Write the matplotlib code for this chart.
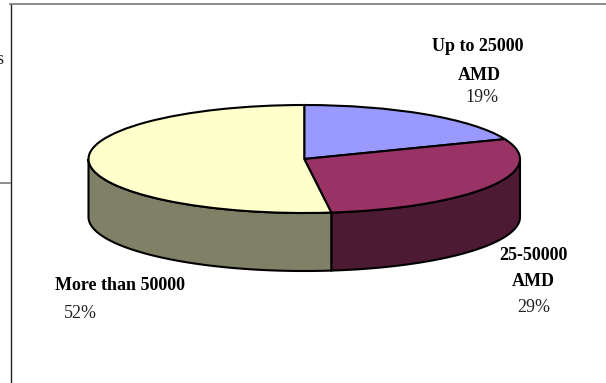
import numpy as np
import matplotlib
matplotlib.use('Agg')
import matplotlib.pyplot as plt

plt.rcParams['font.family'] = ['Liberation Serif', 'DejaVu Serif']

W, H = 606, 383

# income groups, clockwise from the top
shares = [19, 29, 52]
names = ['Up to 25000\nAMD', '25-50000\nAMD', 'More than 50000']
pct_labels = ['19%', '29%', '52%']
top_colors = ['#9999FF', '#993366', '#FFFFCC']
side_colors = ['#4D4D80', '#4D1A33', '#808066']


def fx(px):
    return px / W


def fy(py):
    return 1 - py / H


fig = plt.figure(figsize=(W / 100, H / 100), dpi=100)

# the ellipse of the top face, axes box is its bounding box
left, right, top, bottom = 88.5, 520, 105, 213
ax = fig.add_axes([fx(left), fy(bottom), (right - left) / W, (bottom - top) / H])
depth = 58 / ((bottom - top) / 2)  # in axes units

# side walls first, only the front half can be seen
edges = np.cumsum([0] + shares) / sum(shares) * 360
for i in range(len(shares)):
    a0 = max(edges[i], 90)
    a1 = min(edges[i + 1], 270)
    if a1 <= a0:
        continue
    t = np.radians(np.linspace(a0, a1, 80))
    x = np.sin(t)
    y = np.cos(t)
    ax.fill(np.r_[x, x[::-1]], np.r_[y, y[::-1] - depth], facecolor=side_colors[i],
            edgecolor='black', linewidth=1.5, clip_on=False, zorder=1)

wedges, _ = ax.pie(shares, colors=top_colors, startangle=90, counterclock=False,
                   wedgeprops={'edgecolor': 'black', 'linewidth': 1.5, 'clip_on': False})
for w in wedges:
    w.set_zorder(2)
ax.set_aspect('auto')
ax.set_xlim(-1, 1)
ax.set_ylim(-1, 1)
ax.axis('off')

# frame of the embedded chart, cut off by the page crop
fig.add_artist(plt.Line2D([fx(10.5), fx(10.5)], [fy(4), fy(383)], color='#222222', lw=1))
fig.add_artist(plt.Line2D([fx(10), fx(606)], [fy(4), fy(4)], color='#777777', lw=1.2))
fig.add_artist(plt.Line2D([fx(0), fx(10)], [fy(182.5), fy(182.5)], color='#777777', lw=1.2))
fig.text(fx(-3.5), fy(64), 's', fontsize=13, color='#222222')

# labels
bold = {'fontsize': 13, 'fontweight': 'bold', 'ha': 'center', 'va': 'center', 'color': 'black'}
pct = {'fontsize': 13, 'color': '#222222', 'ha': 'center', 'va': 'center'}

fig.text(fx(478), fy(46.5), names[0].split('\n')[0], **bold)
fig.text(fx(479), fy(75), names[0].split('\n')[1], **bold)
fig.text(fx(482), fy(98), pct_labels[0], **pct)

fig.text(fx(533), fy(256), names[1].split('\n')[0], **bold)
fig.text(fx(533), fy(281.5), names[1].split('\n')[1], **bold)
fig.text(fx(534), fy(307), pct_labels[1], **pct)

fig.text(fx(120), fy(286), names[2], **bold)
fig.text(fx(80), fy(313), pct_labels[2], **pct)

fig.savefig('out.png', dpi=100)
